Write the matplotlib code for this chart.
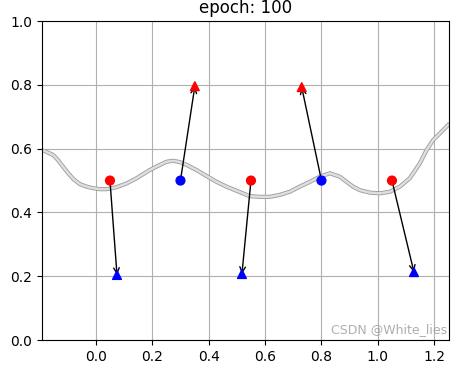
import matplotlib
matplotlib.use('Agg')
import matplotlib.pyplot as plt

# boundary curve
curve_x = [-0.193, -0.175, -0.151, -0.134, -0.116, -0.098, -0.080, -0.057, -0.033, -0.010,
           0.014, 0.038, 0.073, 0.109, 0.144, 0.191, 0.227, 0.251, 0.274, 0.298,
           0.322, 0.357, 0.393, 0.428, 0.463, 0.499, 0.546, 0.582, 0.617, 0.652,
           0.688, 0.723, 0.759, 0.794, 0.830, 0.865, 0.889, 0.912, 0.936, 0.972,
           1.007, 1.043, 1.078, 1.113, 1.149, 1.173, 1.196, 1.220, 1.249]
curve_y = [0.596, 0.590, 0.580, 0.564, 0.543, 0.523, 0.505, 0.489, 0.481, 0.476,
           0.473, 0.473, 0.479, 0.491, 0.507, 0.533, 0.549, 0.559, 0.562, 0.558,
           0.549, 0.533, 0.514, 0.496, 0.481, 0.468, 0.451, 0.449, 0.449, 0.455,
           0.465, 0.481, 0.496, 0.512, 0.523, 0.512, 0.496, 0.481, 0.470, 0.462,
           0.460, 0.465, 0.481, 0.507, 0.554, 0.596, 0.627, 0.648, 0.674]

# sources (circles)
src_x = [0.05, 0.30, 0.55, 0.80, 1.05]
src_y = [0.5, 0.5, 0.5, 0.5, 0.5]
src_color = ['red', 'blue', 'red', 'blue', 'red']

# targets (triangles)
dst_x = [0.075, 0.351, 0.518, 0.730, 1.128]
dst_y = [0.204, 0.796, 0.207, 0.793, 0.213]
dst_color = ['blue', 'red', 'blue', 'red', 'blue']

fig = plt.figure(figsize=(4.64, 3.70), dpi=100)
ax = fig.add_axes([0.0905, 0.081, 0.877, 0.862])

ax.plot(curve_x, curve_y, color='#9a9a9a', lw=3.0, solid_joinstyle='round', zorder=2)
ax.plot(curve_x, curve_y, color='#dedede', lw=1.8, solid_joinstyle='round', zorder=2)

for x0, y0, x1, y1 in zip(src_x, src_y, dst_x, dst_y):
    ax.annotate('', xy=(x1, y1), xytext=(x0, y0),
                arrowprops=dict(arrowstyle='->', color='black', lw=1.0,
                                shrinkA=0, shrinkB=0), zorder=3)

ax.scatter(src_x, src_y, c=src_color, marker='o', s=40, zorder=4)
ax.scatter(dst_x, dst_y, c=dst_color, marker='^', s=40, zorder=4)

ax.set_xlim(-0.191, 1.252)
ax.set_ylim(0, 1)
ax.set_xticks([0.0, 0.2, 0.4, 0.6, 0.8, 1.0, 1.2])
ax.set_yticks([0.0, 0.2, 0.4, 0.6, 0.8, 1.0])
ax.grid(True)
ax.set_axisbelow(True)
ax.set_title('epoch: 100')

# watermark, kept just inside the axes corner so it does not sit on the tick labels
ax.text(0.995, 0.012, 'CSDN @White_lies', transform=ax.transAxes,
        ha='right', va='bottom', color='#9a9a9a', fontsize=9, alpha=0.8)

fig.savefig('out.png', dpi=100)
